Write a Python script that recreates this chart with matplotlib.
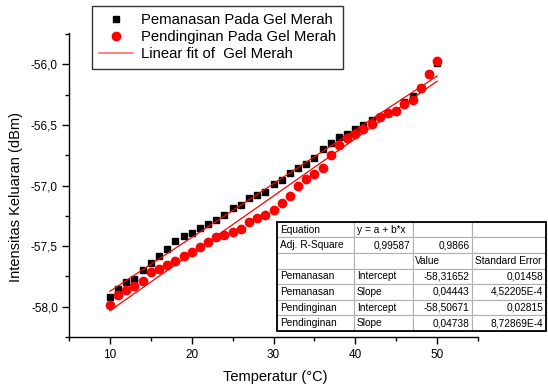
import matplotlib
matplotlib.use("Agg")
import matplotlib.pyplot as plt
from matplotlib.ticker import MultipleLocator, FuncFormatter
from matplotlib.lines import Line2D
import numpy as np

plt.rcParams['font.family'] = ['Liberation Sans', 'DejaVu Sans']

# temperature (deg C)
suhu = list(range(10, 51))

# output intensity while heating (black squares)
pemanasan = [-57.923, -57.855, -57.795, -57.775, -57.698, -57.635, -57.585, -57.525,
             -57.458, -57.415, -57.393, -57.354, -57.313, -57.286, -57.245, -57.187,
             -57.162, -57.105, -57.077, -57.049, -56.987, -56.954, -56.899, -56.852,
             -56.824, -56.769, -56.695, -56.651, -56.596, -56.577, -56.530, -56.499,
             -56.458, -56.431, -56.404, -56.385, -56.309, -56.264, -56.192, -56.077,
             -55.990]

# output intensity while cooling (red circles)
pendinginan = [-57.984, -57.904, -57.863, -57.828, -57.786, -57.717, -57.690, -57.657,
               -57.622, -57.585, -57.552, -57.506, -57.465, -57.424, -57.410, -57.383,
               -57.360, -57.297, -57.264, -57.245, -57.204, -57.146, -57.086, -57.003,
               -56.948, -56.907, -56.857, -56.748, -56.668, -56.610, -56.571, -56.536,
               -56.489, -56.433, -56.401, -56.387, -56.324, -56.289, -56.192, -56.077,
               -55.973]

# fit coefficients from the table in the chart
fit_intercept = [-58.31652, -58.50671]
fit_slope = [0.04443, 0.04738]

table_rows = [
    ["Equation", "y = a + b*x", "", ""],
    ["Adj. R-Square", "0,99587", "0,9866", ""],
    ["", "", "Value", "Standard Error"],
    ["Pemanasan", "Intercept", "-58,31652", "0,01458"],
    ["Pemanasan", "Slope", "0,04443", "4,52205E-4"],
    ["Pendinginan", "Intercept", "-58,50671", "0,02815"],
    ["Pendinginan", "Slope", "0,04738", "8,72869E-4"],
]

fig = plt.figure(figsize=(5.48, 3.87), dpi=100)
ax = fig.add_axes([0.1259, 0.1292, 0.7464, 0.7855])

ax.plot(suhu, pemanasan, 's', color='black', ms=5, zorder=3)
xs = np.array([suhu[0], suhu[-1]])
for a, b in zip(fit_intercept, fit_slope):
    ax.plot(xs, a + b * xs, color='red', lw=0.9, zorder=4)
ax.plot(suhu, pendinginan, 'o', color='red', ms=6, mec='red', zorder=5)

ax.set_xlim(5, 55)
ax.set_ylim(-58.25, -55.74)
ax.xaxis.set_major_locator(MultipleLocator(10))
ax.xaxis.set_minor_locator(MultipleLocator(5))
ax.yaxis.set_major_locator(MultipleLocator(0.5))
ax.yaxis.set_minor_locator(MultipleLocator(0.25))
ax.yaxis.set_major_formatter(FuncFormatter(lambda v, p: f"{v:.1f}".replace('.', ',')))
ax.tick_params(which='major', direction='out', length=5, width=1, labelsize=8.5, pad=3)
ax.tick_params(which='minor', direction='out', length=3, width=1)
ax.tick_params(axis='x', which='major', pad=4)
for s in ['top', 'right']:
    ax.spines[s].set_visible(False)
for s in ['left', 'bottom']:
    ax.spines[s].set_linewidth(1)

ax.set_xlabel("Temperatur (°C)", fontsize=10.5, va='center')
ax.xaxis.set_label_coords(0.504, -0.132)
ax.set_ylabel("Intensitas Keluaran (dBm)", fontsize=10.5, va='center')
ax.yaxis.set_label_coords(-0.13, 0.46)

handles = [
    Line2D([], [], ls='none', marker='s', color='black', ms=5),
    Line2D([], [], ls='none', marker='o', color='red', ms=6),
    Line2D([], [], color='#ff7070', lw=1.2),
]
labels = ["Pemanasan Pada Gel Merah", "Pendinginan Pada Gel Merah", "Linear fit of  Gel Merah"]
leg = fig.legend(handles, labels, loc='upper left', bbox_to_anchor=(0.167, 0.985),
                 fontsize=10.7, frameon=True, fancybox=False, edgecolor='black',
                 borderpad=0.5, labelspacing=0.2, handlelength=2.3, handletextpad=0.5,
                 borderaxespad=0)
leg.get_frame().set_linewidth(1)

col_w = [0.2876, 0.2165, 0.2187, 0.2772]
tbl = ax.table(cellText=table_rows, colWidths=col_w, bbox=[0.508, 0.02, 0.659, 0.359],
               cellLoc='left')
tbl.auto_set_font_size(False)
tbl.set_fontsize(7.3)
right_cells = {(1, 1), (1, 2), (3, 2), (3, 3), (4, 2), (4, 3), (5, 2), (5, 3), (6, 2), (6, 3)}
for (r, c), cell in tbl.get_celld().items():
    cell.set_edgecolor('#b0b0b0')
    cell.set_linewidth(0.8)
    cell.PAD = 0.04
    if (r, c) in right_cells:
        cell.get_text().set_ha('right')
        cell._loc = 'right'
tbl.set_zorder(6)
ax.add_patch(plt.Rectangle((0.508, 0.02), 0.659, 0.359, transform=ax.transAxes,
                           fill=False, edgecolor='black', lw=1.3, zorder=7, clip_on=False))

fig.savefig('out.png', dpi=100)
